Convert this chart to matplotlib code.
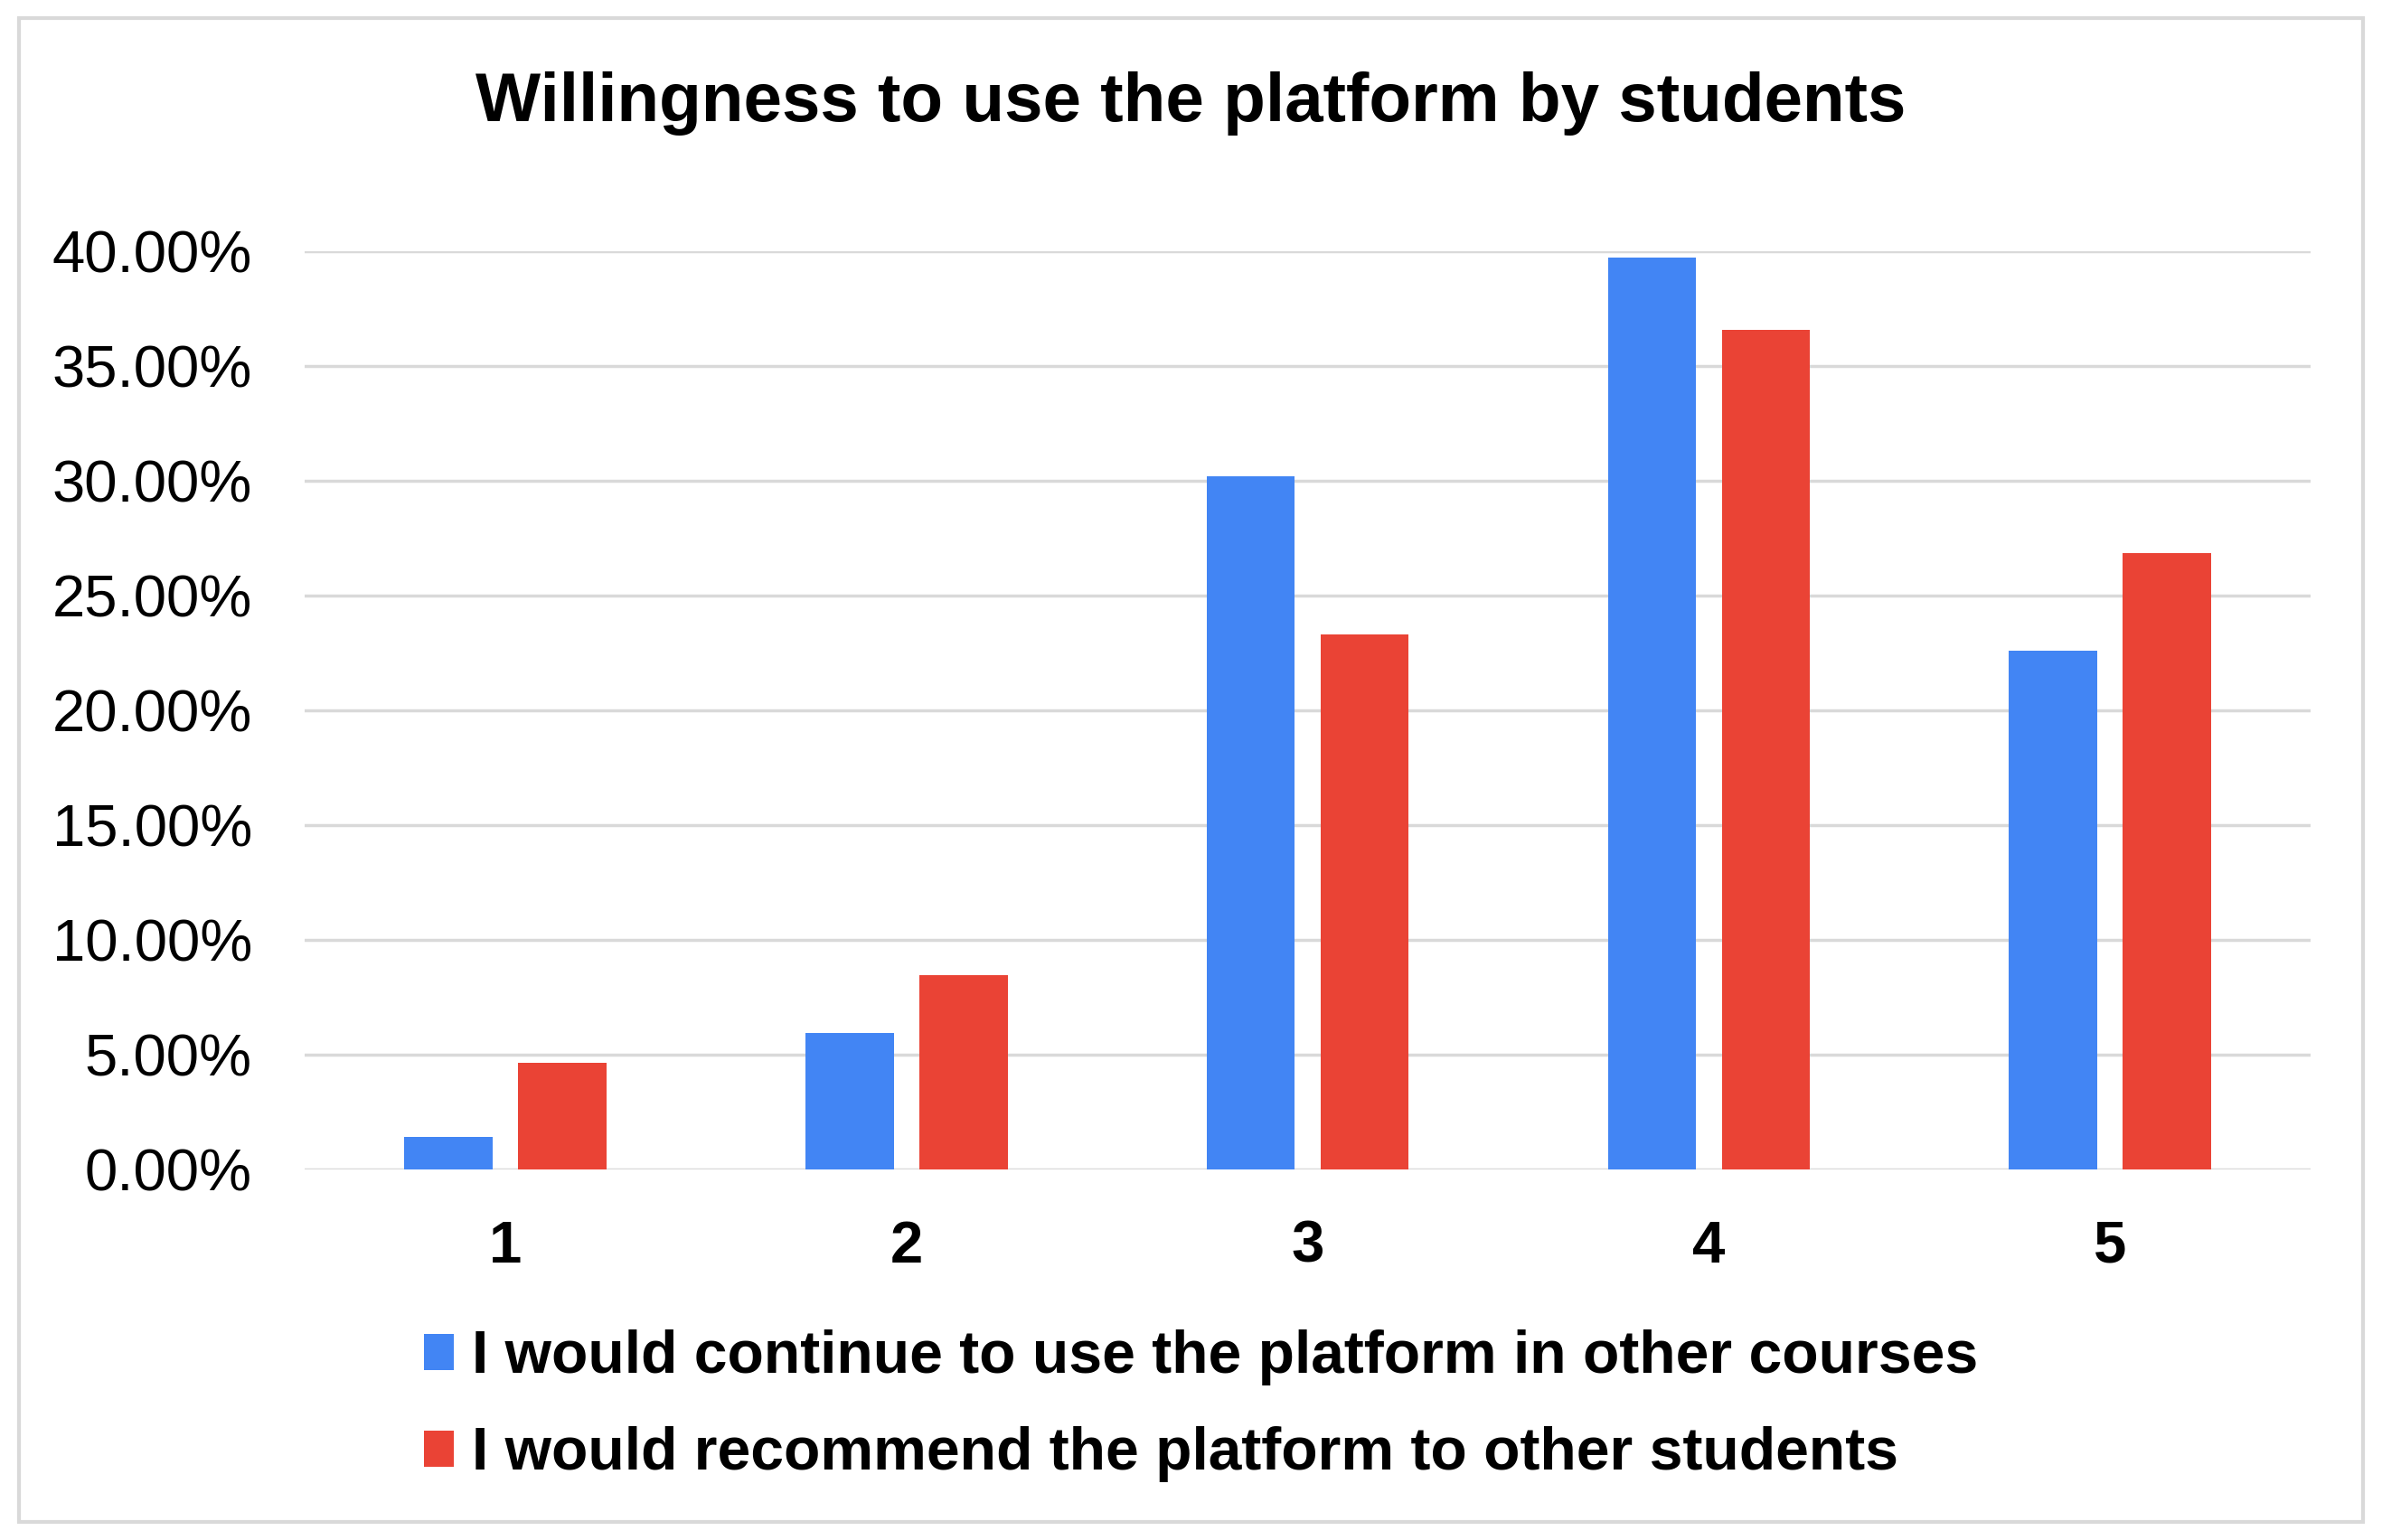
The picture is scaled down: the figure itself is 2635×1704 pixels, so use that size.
import matplotlib.pyplot as plt
import numpy as np
from matplotlib.patches import Rectangle
from matplotlib.ticker import PercentFormatter

plt.rcParams['font.family'] = ['Liberation Sans', 'DejaVu Sans']

# survey answers on a 1-5 scale, share of students in %
categories = ['1', '2', '3', '4', '5']
continue_use = [1.43, 5.95, 30.2, 39.7, 22.6]
recommend = [4.66, 8.46, 23.3, 36.55, 26.84]
series_names = ['I would continue to use the platform in other courses',
                'I would recommend the platform to other students']

blue = '#4285F4'
red = '#EA4335'
grid = '#D9D9D9'

fig = plt.figure(figsize=(26.35, 17.04), dpi=100)
ax = fig.add_axes([0.128, 0.2406, 0.842, 0.5964])

x = np.arange(len(categories))
w = 0.22
off = (w + 0.064) / 2
ax.bar(x - off, continue_use, w, color=blue, label=series_names[0], zorder=3)
ax.bar(x + off, recommend, w, color=red, label=series_names[1], zorder=3)

ax.set_xlim(-0.5, 4.5)
ax.set_ylim(0, 40)
ax.set_yticks(np.arange(0, 41, 5))
ax.yaxis.set_major_formatter(PercentFormatter(decimals=2))
ax.set_xticks(x)
ax.set_xticklabels(categories, fontweight='bold')
ax.tick_params(axis='y', length=0, labelsize=47, pad=42)
ax.tick_params(axis='x', length=0, labelsize=47, pad=40)
ax.grid(axis='y', color=grid, linewidth=2.5, zorder=0)
for s in ax.spines.values():
    s.set_visible(False)

fig.text(0.5, 0.933, 'Willingness to use the platform by students',
         ha='center', va='center', fontsize=55, fontweight='bold')

fig.legend(loc='center left', bbox_to_anchor=(0.178, 0.087), frameon=False,
           handlelength=0.5, handleheight=0.55, handletextpad=0.3,
           labelspacing=0.68, borderpad=0, borderaxespad=0,
           prop={'weight': 'bold', 'size': 47.5})

fig.patches.append(Rectangle((0.008, 0.012), 0.984, 0.976, transform=fig.transFigure,
                             fill=False, edgecolor=grid, linewidth=3))

fig.savefig('out.png', dpi=100)
